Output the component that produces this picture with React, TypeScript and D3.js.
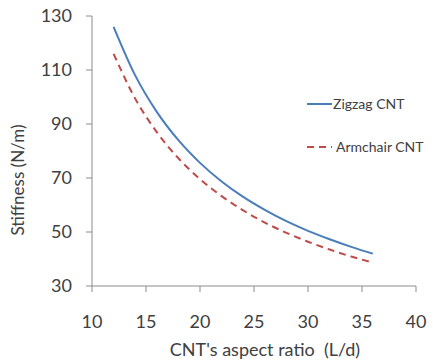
import React, { useEffect, useRef } from "react";
import * as d3 from "d3";

// aspect ratio (L/d) sample points
const aspectRatio = [12, 14, 16, 18, 20, 22, 24, 26, 28, 30, 32, 34, 36];
const zigzag = [126, 108, 94.5, 84, 75.6, 68.7, 63, 58.2, 54, 50.4, 47.3, 44.5, 42];
const armchair = [116, 99.4, 87, 77.3, 69.6, 63.3, 58, 53.5, 49.7, 46.4, 43.5, 40.9, 38.7];
const xTicks = [10, 15, 20, 25, 30, 35, 40];
const yTicks = [30, 50, 70, 90, 110, 130];
const seriesNames = ["Zigzag CNT", "Armchair CNT"];

const App = () => {
  const ref = useRef<SVGSVGElement>(null);

  useEffect(() => {
    const svg = d3.select(ref.current);
    svg.selectAll("*").remove();

    const font = "Lato, 'Open Sans', sans-serif";
    const axisColor = "#8c8c8c";
    const textColor = "#404040";

    const x = d3.scaleLinear().domain([10, 40]).range([92, 416]);
    const y = d3.scaleLinear().domain([30, 130]).range([286, 16]);

    // y axis
    svg.append("line")
      .attr("x1", x(10)).attr("x2", x(10))
      .attr("y1", y(30)).attr("y2", y(130))
      .attr("stroke", axisColor);
    svg.selectAll(".ytick")
      .data(yTicks)
      .enter()
      .append("line")
      .attr("x1", x(10) - 6).attr("x2", x(10))
      .attr("y1", (d) => y(d)).attr("y2", (d) => y(d))
      .attr("stroke", axisColor);
    svg.selectAll(".ylab")
      .data(yTicks)
      .enter()
      .append("text")
      .attr("x", 72)
      .attr("y", (d) => y(d))
      .attr("dy", "0.35em")
      .attr("text-anchor", "end")
      .attr("font-family", font)
      .attr("font-size", 18)
      .attr("fill", textColor)
      .text((d) => d);

    // x axis
    svg.append("line")
      .attr("x1", x(10)).attr("x2", x(40))
      .attr("y1", y(30)).attr("y2", y(30))
      .attr("stroke", axisColor);
    svg.selectAll(".xtick")
      .data(xTicks)
      .enter()
      .append("line")
      .attr("x1", (d) => x(d)).attr("x2", (d) => x(d))
      .attr("y1", y(30)).attr("y2", y(30) + 6)
      .attr("stroke", axisColor);
    svg.selectAll(".xlab")
      .data(xTicks)
      .enter()
      .append("text")
      .attr("x", (d) => x(d))
      .attr("y", 322)
      .attr("dy", "0.35em")
      .attr("text-anchor", "middle")
      .attr("font-family", font)
      .attr("font-size", 18)
      .attr("fill", textColor)
      .text((d) => d);

    // axis titles
    svg.append("text")
      .attr("x", 265).attr("y", 350)
      .attr("dy", "0.35em")
      .attr("text-anchor", "middle")
      .attr("font-family", font)
      .attr("font-size", 18)
      .attr("fill", textColor)
      .attr("xml:space", "preserve")
      .text("CNT's aspect ratio  (L/d)");
    svg.append("text")
      .attr("transform", "translate(18,180) rotate(-90)")
      .attr("dy", "0.35em")
      .attr("text-anchor", "middle")
      .attr("font-family", font)
      .attr("font-size", 17)
      .attr("fill", textColor)
      .text("Stiffness (N/m)");

    // curves
    const line = d3.line<number>()
      .x((_, i) => x(aspectRatio[i]))
      .y((d) => y(d))
      .curve(d3.curveMonotoneX);

    svg.append("path")
      .attr("d", line(zigzag))
      .attr("fill", "none")
      .attr("stroke", "#4a7ebb")
      .attr("stroke-width", 2);
    svg.append("path")
      .attr("d", line(armchair))
      .attr("fill", "none")
      .attr("stroke", "#be4b48")
      .attr("stroke-width", 2)
      .attr("stroke-dasharray", "7,5");

    // legend
    const legend = [
      { name: seriesNames[0], color: "#4a7ebb", dash: null, yy: 104, tx: 333 },
      { name: seriesNames[1], color: "#be4b48", dash: "7,5", yy: 147, tx: 336 },
    ];
    legend.forEach((l) => {
      svg.append("line")
        .attr("x1", 307).attr("x2", 332)
        .attr("y1", l.yy).attr("y2", l.yy)
        .attr("stroke", l.color)
        .attr("stroke-width", 2)
        .attr("stroke-dasharray", l.dash);
      svg.append("text")
        .attr("x", l.tx).attr("y", l.yy)
        .attr("dy", "0.35em")
        .attr("font-family", font)
        .attr("font-size", 14)
        .attr("fill", textColor)
        .text(l.name);
    });
  }, []);

  return (
    <svg
      ref={ref}
      width={433}
      height={363}
      style={{ position: "absolute", left: 0, top: 0, background: "#fff" }}
    />
  );
};

export default App;
